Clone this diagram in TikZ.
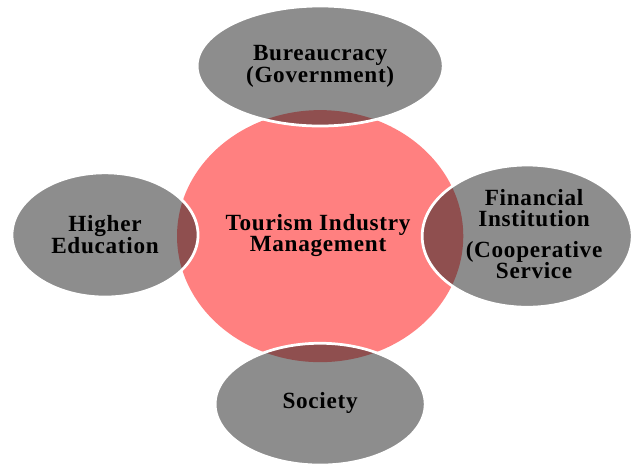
\documentclass[tikz,border=0pt]{standalone}
\usepackage{fontspec}
\setmainfont{Liberation Serif}[LetterSpace=3]

\definecolor{hub} {RGB}{255,128,128}
\definecolor{sat} {RGB}{141,141,141}
\definecolor{lap} {RGB}{143,79,79}

\tikzset{
  lbl/.style={align=center,font=\bfseries\fontsize{22}{20}\selectfont},
  rim/.style={draw=white,line width=2.6pt}
}

\begin{document}
\begin{tikzpicture}

    \useasboundingbox (0,0) rectangle (21.13,15.5);

    \fill[hub] (10.67,7.63) ellipse (4.77cm and 4.2cm);

    % top
    \fill[sat] (10.67,13.3) ellipse (4.1cm and 2cm);
    \begin{scope}
      \clip (10.67,13.3) ellipse (4.1cm and 2cm);
      \fill[lap] (10.67,7.63) ellipse (4.77cm and 4.2cm);
    \end{scope}
    \draw[rim] (10.67,13.3) ellipse (4.1cm and 2cm);

    % left
    \fill[sat] (3.5,7.67) ellipse (3.1cm and 2.07cm);
    \begin{scope}
      \clip (3.5,7.67) ellipse (3.1cm and 2.07cm);
      \fill[lap] (10.67,7.63) ellipse (4.77cm and 4.2cm);
    \end{scope}
    \draw[rim] (3.5,7.67) ellipse (3.1cm and 2.07cm);

    % right
    \fill[sat] (17.57,7.63) ellipse (3.5cm and 2.37cm);
    \begin{scope}
      \clip (17.57,7.63) ellipse (3.5cm and 2.37cm);
      \fill[lap] (10.67,7.63) ellipse (4.77cm and 4.2cm);
    \end{scope}
    \draw[rim] (17.57,7.63) ellipse (3.5cm and 2.37cm);

    % bottom
    \fill[sat] (10.67,2.03) ellipse (3.5cm and 2.03cm);
    \begin{scope}
      \clip (10.67,2.03) ellipse (3.5cm and 2.03cm);
      \fill[lap] (10.67,7.63) ellipse (4.77cm and 4.2cm);
    \end{scope}
    \draw[rim] (10.67,2.03) ellipse (3.5cm and 2.03cm);

    \node[lbl] (tim) at (10.6,7.66) {Tourism Industry\\Management};
    \node[lbl] (gov) at (10.67,13.3) {Bureaucracy\\(Government)};
    \node[lbl] (edu) at (3.5,7.67) {Higher\\Education};
    \node[lbl] (fin) at (17.8,7.7) {Financial\\Institution\\[0.3cm](Cooperative\\Service};
    \node[lbl] (soc) at (10.67,2.07) {Society};

\end{tikzpicture}
\end{document}
